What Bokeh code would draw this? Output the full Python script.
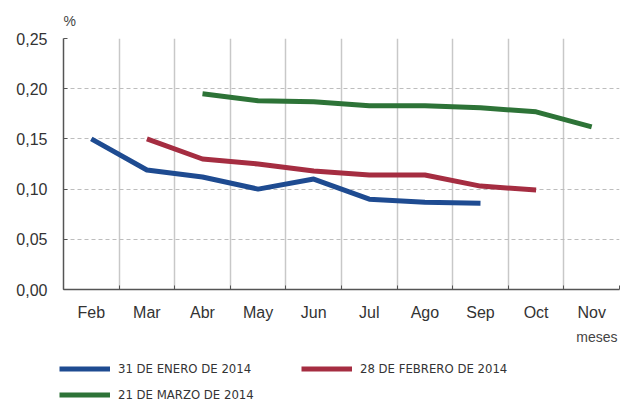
from bokeh.plotting import figure
from bokeh.layouts import column
from bokeh.models import (Range1d, FixedTicker, LinearAxis, Legend, LegendItem,
                          Label, Grid, CustomJSTickFormatter, Title)
from bokeh.embed import file_html
from bokeh.resources import INLINE

months = ["Feb", "Mar", "Abr", "May", "Jun", "Jul", "Ago", "Sep", "Oct", "Nov"]
y_ticks = [0.0, 0.05, 0.10, 0.15, 0.20, 0.25]

enero_months = ["Feb", "Mar", "Abr", "May", "Jun", "Jul", "Ago", "Sep"]
enero_values = [0.150, 0.119, 0.112, 0.100, 0.110, 0.090, 0.087, 0.086]

febrero_months = ["Mar", "Abr", "May", "Jun", "Jul", "Ago", "Sep", "Oct"]
febrero_values = [0.150, 0.130, 0.125, 0.118, 0.114, 0.114, 0.103, 0.099]

marzo_months = ["Abr", "May", "Jun", "Jul", "Ago", "Sep", "Oct", "Nov"]
marzo_values = [0.195, 0.188, 0.187, 0.183, 0.183, 0.181, 0.177, 0.162]

series_names = ["31 DE ENERO DE 2014", "28 DE FEBRERO DE 2014", "21 DE MARZO DE 2014"]
series_colors = ["#1e4b91", "#a52d41", "#2d7337"]

TXT = "#333333"
FONT = "Liberation Sans"
LEGEND_FONT = "DejaVu Sans Condensed"

p = figure(width=621, height=330, output_backend="svg", toolbar_location=None,
           x_range=Range1d(0, len(months)), y_range=Range1d(0, 0.25),
           x_axis_type=None, y_axis_type=None,
           min_border_left=63, min_border_right=2, min_border_top=37,
           min_border_bottom=41)
p.frame_align = False
p.outline_line_color = None
p.background_fill_color = "white"
p.border_fill_color = "white"

p.add_layout(Title(text="%", align="left", offset=0, standoff=20,
                   text_font=FONT, text_font_size="14px", text_font_style="normal",
                   text_color="#444444"), "above")

boundaries = list(range(len(months) + 1))
centers = [i + 0.5 for i in range(len(months))]

# grids
p.add_layout(Grid(dimension=0, ticker=FixedTicker(ticks=boundaries[1:]),
                  grid_line_color="#c8c8c8", grid_line_width=1.5))
p.add_layout(Grid(dimension=1, ticker=FixedTicker(ticks=y_ticks[1:]),
                  grid_line_color="#bdbdbd", grid_line_width=1,
                  grid_line_dash="4 3"))

# y axis
yaxis = LinearAxis(ticker=FixedTicker(ticks=y_ticks),
                   formatter=CustomJSTickFormatter(code="return tick.toFixed(2).replace('.', ',');"),
                   major_tick_in=4, major_tick_out=0,
                   minor_tick_line_color=None,
                   axis_line_color="#555555", axis_line_width=1.5,
                   major_tick_line_color="#555555",
                   major_label_standoff=16,
                   major_label_text_font=FONT,
                   major_label_text_font_size="16px",
                   major_label_text_color=TXT)
p.add_layout(yaxis, "left")

# x axis (ticks at category boundaries)
xtick_axis = LinearAxis(ticker=FixedTicker(ticks=boundaries),
                        formatter=CustomJSTickFormatter(code="return '';"),
                        major_tick_in=4, major_tick_out=0,
                        minor_tick_line_color=None,
                        axis_line_color="#555555", axis_line_width=1.5,
                        major_tick_line_color="#555555",
                        major_label_standoff=0,
                        major_label_text_font_size="1px")
p.add_layout(xtick_axis, "below")

# x axis labels (at category centres)
xlabel_axis = LinearAxis(ticker=FixedTicker(ticks=centers),
                         formatter=CustomJSTickFormatter(args=dict(labels=months),
                                                         code="return labels[Math.floor(tick)];"),
                         major_tick_in=0, major_tick_out=0,
                         minor_tick_line_color=None,
                         axis_line_color=None, major_tick_line_color=None,
                         major_label_standoff=14,
                         major_label_text_font=FONT,
                         major_label_text_font_size="16px",
                         major_label_text_color=TXT)
p.add_layout(xlabel_axis, "below")

def xs_for(mlist):
    return [months.index(m) + 0.5 for m in mlist]

series = [(enero_months, enero_values), (febrero_months, febrero_values),
          (marzo_months, marzo_values)]

for (mlist, vals), col in zip(series, series_colors):
    p.line(xs_for(mlist), vals, line_color=col, line_width=5,
           line_join="round", line_cap="butt")

# lower strip: "meses" and legend (its lines carry the same data, kept out of view)
p2 = figure(width=621, height=75, output_backend="svg", toolbar_location=None,
            x_range=Range1d(-3, -2), y_range=Range1d(0, 1),
            x_axis_type=None, y_axis_type=None,
            min_border_left=0, min_border_right=0, min_border_top=0,
            min_border_bottom=0)
p2.frame_align = False
p2.outline_line_color = None
p2.background_fill_color = "white"
p2.border_fill_color = "white"

legend_renderers = [p2.line(xs_for(mlist), vals, line_color=c, line_width=5)
                    for (mlist, vals), c in zip(series, series_colors)]

legend = Legend(items=[LegendItem(label=n, renderers=[r]) for n, r in zip(series_names, legend_renderers)],
                location=(59, 2), ncols=2, orientation="horizontal",
                padding=0, margin=0, border_line_color=None,
                background_fill_alpha=0,
                glyph_width=51, glyph_height=17, label_height=17,
                label_width=174, label_standoff=8, spacing=9,
                label_text_font=LEGEND_FONT,
                label_text_font_size="13px", label_text_color=TXT)
p2.add_layout(legend)

p2.add_layout(Label(x=617, y=69, x_units="screen", y_units="screen", text="meses",
                    text_font=FONT, text_font_size="14px", text_color="#444444",
                    text_baseline="middle", text_align="right"))

open("out.html", "w").write(file_html(column(p, p2, spacing=0), INLINE))
